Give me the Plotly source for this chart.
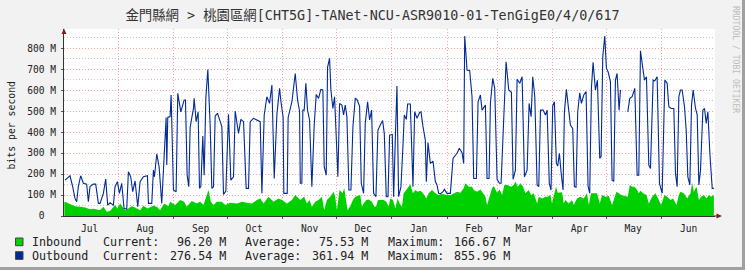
import plotly.graph_objects as go
import pandas as pd

BASE = pd.Timestamp("2022-07-01")

# ---------------- data (values in Mbit/s, x = days since 2022-07-01) ----------------
months = ["Jul", "Aug", "Sep", "Oct", "Nov", "Dec", "Jan", "Feb", "Mar", "Apr", "May", "Jun"]
month_starts = list(pd.date_range("2022-07-01", periods=12, freq="MS"))

y_tickvals = [0, 100, 200, 300, 400, 500, 600, 700, 800]
y_ticktext = ["0\u00a0\u00a0", "100 M", "200 M", "300 M", "400 M", "500 M", "600 M", "700 M", "800 M"]
y_minorvals = [50, 150, 250, 350, 450, 550, 650, 750, 850]

out_day = [1.18, 3.98, 5.47, 6.78, 7.71, 8.65, 9.95, 11.45, 13.31, 14.25, 15.18, 17.05, 18.35, 19.85,
           20.78, 22.65, 23.95, 25.07, 26.38, 28.25, 29.18, 30.49, 31.61, 32.91, 34.22, 35.71, 36.65,
           37.95, 39.07, 40.38, 41.87, 43.18, 45.05, 47.29, 47.85, 49.72, 50.65, 51.21, 52.51, 53.82,
           55.31, 56.62, 57.74, 58.11, 58.67, 59.98, 60.54, 61.85, 63.34, 64.27, 65.96, 67.82, 68.57,
           69.5, 70.43, 71.18, 73.05, 73.42, 74.54, 75.66, 76.41, 77.16, 78.27, 79.02, 79.96, 81.08,
           82.38, 83.32, 84.25, 85.18, 86.49, 87.42, 88.92, 89.85, 91.16, 92.65, 93.96, 95.45, 96.38,
           98.25, 99.56, 101.05, 102.54, 103.85, 104.78, 106.65, 110.38, 111.32, 112.62, 114.12,
           115.61, 116.92, 118.22, 119.72, 121.21, 122.0, 123.2, 123.6, 125.5, 126.0, 128.12, 129.98,
           131.29, 132.4, 132.8, 133.68, 134.24, 134.99, 135.92, 136.86, 137.98, 139.28, 140.59,
           141.71, 143.02, 144.32, 145.44, 146.19, 147.31, 148.06, 149.18, 149.92, 151.04, 151.98,
           153.28, 153.84, 154.78, 156.08, 157.02, 157.95, 158.88, 160.0, 161.12, 162.24, 163.55,
           164.48, 165.98, 166.91, 168.22, 169.15, 170.46, 171.58, 172.7, 173.82, 175.12, 176.24,
           177.55, 178.86, 179.79, 180.91, 181.85, 182.78, 184.27, 185.02, 185.95, 186.88, 187.82,
           189.13, 190.25, 190.99, 192.11, 192.86, 194.35, 195.84, 196.78, 198.08, 199.58, 200.33,
           201.45, 202.75, 203.31, 204.24, 205.55, 207.05, 208.35, 209.29, 210.22, 211.15, 212.65,
           213.39, 214.88, 216.75, 218.25, 219.55, 220.49, 221.79, 223.29, 224.22, 224.78, 226.09,
           227.58, 228.88, 229.82, 231.31, 232.25, 233.55, 234.49, 236.35, 237.29, 238.4, 239.15,
           240.46, 241.58, 242.89, 244.19, 245.13, 246.62, 247.93, 249.42, 250.91, 251.85, 253.15,
           254.09, 255.58, 256.89, 258.19, 259.69, 260.81, 261.93, 262.86, 263.98, 265.29, 266.22,
           267.16, 268.65, 269.95, 270.89, 272.1, 273.07, 274.0, 274.94, 276.06, 276.81, 277.74,
           278.86, 279.79, 280.54, 281.66, 282.97, 283.9, 285.21, 286.14, 287.07, 288.01, 289.13,
           290.06, 291.37, 292.67, 293.79, 294.73, 295.66, 296.59, 297.9, 299.02, 300.33, 301.07,
           302.01, 303.13, 304.06, 304.99, 306.3, 307.23, 308.17, 309.1, 310.03, 311.15, 311.9,
           312.5, 316.01, 317.13, 318.43, 319.93, 321.23, 322.17, 323.1, 324.41, 325.34, 326.46,
           327.77, 328.7, 330.19, 331.13, 332.43, 333.74, 335.24, 336.73, 338.03, 338.97, 340.28,
           341.77, 342.7, 343.64, 344.57, 345.5, 346.43, 347.74, 348.67, 349.61, 350.73, 351.66,
           352.6, 353.9, 354.84, 355.77, 356.7, 358.01, 358.94, 359.88, 360.81, 361.93, 363.24, 364.17]
out_mbps = [171, 192, 140, 84, 68, 140, 192, 156, 152, 68, 140, 152, 152, 60,
            60, 108, 176, 52, 63, 52, 140, 164, 108, 156, 36, 33, 211,
            187, 116, 167, 44, 164, 187, 192, 60, 60, 219, 187, 296, 235,
            60, 299, 470, 243, 470, 474, 577, 124, 116, 585, 497, 553, 553,
            195, 140, 423, 513, 561, 450, 497, 132, 140, 381, 195, 561, 699,
            434, 132, 140, 477, 490, 466, 426, 103, 119, 485, 171, 187, 501,
            394, 461, 450, 132, 132, 450, 466, 450, 108, 482, 569,
            537, 625, 179, 485, 609, 545, 470, 108, 108, 470, 545, 680,
            553, 500, 156, 156, 505, 505, 633, 505, 458, 140, 434,
            580, 561, 604, 601, 235, 195, 709, 752, 601, 513, 569,
            235, 187, 537, 529, 482, 529, 474, 124, 124, 426, 561,
            556, 524, 156, 108, 442, 545, 458, 505, 108, 92, 410,
            434, 455, 394, 92, 92, 386, 389, 92, 362, 620, 92,
            140, 338, 482, 461, 534, 534, 140, 497, 466, 494, 497,
            426, 362, 164, 350, 251, 262, 164, 148, 108, 105, 116,
            127, 108, 108, 275, 286, 299, 323, 302, 251, 858, 696,
            693, 569, 179, 179, 545, 577, 505, 529, 179, 179, 537,
            656, 609, 175, 156, 156, 505, 736, 601, 590, 175, 219,
            652, 633, 664, 187, 219, 537, 474, 664, 569, 148, 140,
            505, 505, 482, 505, 156, 124, 524, 545, 251, 238, 299,
            195, 124, 493, 604, 505, 434, 418, 140, 137, 497, 588,
            537, 577, 593, 143, 108, 609, 733, 601, 648, 275, 283,
            760, 858, 704, 688, 641, 171, 165, 648, 680, 505, 601,
            None, 497, 561, 569, 609, 195, 195, 788, 704, 648, 664,
            243, 227, 648, 645, 664, 156, 108, 648, 633, 521, 513,
            513, 203, 140, 569, 601, 601, 521, 410, 187, 148, 529,
            601, 513, 482, 148, 219, 505, 513, 442, 497, 299, 132, 132]

in_day = [0.8, 1.18, 3.98, 6.78, 9.58, 12.38, 15.18, 17.05, 20.78, 22.65, 24.51, 26.38, 29.18, 30.49,
          31.98, 34.78, 36.65, 38.51, 40.38, 43.18, 45.05, 47.29, 50.65, 52.51, 54.38, 56.62, 59.05,
          59.98, 62.78, 65.58, 67.82, 69.31, 72.12, 74.92, 76.78, 78.65, 80.52, 81.45, 82.76, 84.25,
          86.12, 88.92, 90.78, 93.58, 97.32, 100.12, 102.92, 105.72, 108.52, 110.38, 112.25, 115.05,
          117.85, 120.65, 122.52, 125.32, 128.12, 129.98, 132.79, 134.99, 136.48, 137.98, 139.28,
          141.15, 143.02, 144.88, 146.19, 147.68, 149.55, 151.42, 152.35, 153.28, 154.78, 156.46,
          157.39, 158.14, 159.26, 160.75, 162.24, 163.55, 166.35, 167.28, 168.22, 169.71, 171.02,
          172.88, 174.19, 175.31, 176.24, 179.42, 180.91, 182.22, 183.15, 184.64, 185.95, 187.26,
          188.38, 189.68, 190.62, 192.11, 192.86, 194.35, 195.84, 197.15, 198.46, 199.95, 201.45,
          203.31, 204.62, 206.49, 208.35, 210.22, 212.08, 214.88, 217.12, 218.62, 220.49, 222.35,
          224.22, 225.15, 227.02, 228.88, 229.82, 231.68, 233.55, 235.05, 236.35, 237.29, 238.78,
          240.08, 241.02, 242.89, 244.38, 245.69, 246.99, 248.49, 250.73, 252.22, 253.15, 254.46,
          255.95, 257.45, 258.75, 260.62, 261.93, 263.42, 265.29, 266.22, 268.09, 269.95, 271.21,
          272.7, 273.63, 274.57, 275.87, 276.81, 279.23, 280.17, 281.1, 282.97, 284.83, 285.77,
          287.63, 289.5, 291.37, 293.23, 294.17, 295.47, 298.83, 300.33, 301.63, 303.5, 305.37,
          307.23, 308.54, 309.66, 310.97, 312.27, 312.6, 316.01, 317.13, 318.43, 319.74, 321.23,
          322.17, 323.1, 324.59, 326.46, 327.77, 329.63, 331.5, 333.37, 334.68, 336.54, 338.03,
          339.9, 341.39, 343.26, 344.57, 345.5, 347.37, 349.23, 351.1, 352.03, 352.97, 354.46,
          355.77, 357.07, 358.57, 360.06, 361.37, 362.68, 364.17]
in_mbps = [66, 68, 57, 47, 44, 40, 32, 35, 28, 44, 20, 24, 52, 36,
           60, 28, 36, 47, 40, 28, 49, 36, 49, 44, 28, 60, 47,
           68, 52, 76, 68, 44, 71, 60, 68, 52, 100, 124, 68, 52,
           68, 68, 52, 63, 60, 68, 63, 60, 76, 84, 60, 92,
           68, 84, 76, 60, 76, 100, 76, 92, 60, 76, 44,
           68, 76, 92, 28, 76, 92, 116, 92, 28, 124, 108,
           132, 92, 28, 47, 76, 92, 100, 44, 60, 76, 79,
           68, 44, 47, 76, 76, 68, 44, 84, 76, 36, 84,
           60, 44, 108, 124, 132, 152, 108, 124, 116, 121, 108,
           84, 108, 124, 108, 100, 105, 100, 100, 108, 116, 111,
           132, 156, 140, 140, 124, 116, 127, 108, 92, 52, 100,
           132, 143, 111, 127, 100, 148, 148, 140, 148, 164, 140,
           156, 140, 108, 124, 100, 108, 60, 92, 84, 92, 92,
           100, 60, 100, 140, 111, 113, 60, 76, 60, 76, 52,
           84, 92, 84, 108, 52, 108, 108, 60, 100, 92, 95,
           52, 92, 116, 108, 100, None, 92, 148, 140, 140, 124,
           108, 121, 108, 100, 60, 92, 108, 76, 52, 100, 92,
           76, 84, 52, 100, 116, 108, 84, 108, 159, 116, 140,
           76, 92, 100, 84, 100, 92, 100]

legend_rows = [
    ("Inbound", "96.20 M", "75.53 M", "166.67 M", "#00CF00"),
    ("Outbound", "276.54 M", "361.94 M", "855.96 M", "#002A97"),
]

# ---------------- geometry helpers (pixel -> paper) ----------------
W, H = 745, 270
L, R, T, B = 64, 30, 29, 54
PW, PH = W - L - R, H - T - B


def px(x):
    return (x - L) / PW


def py(y):
    return (H - B - y) / PH


MONO = "DejaVu Sans Mono, Noto Sans CJK TC, monospace"

fig = go.Figure()
fig.add_trace(go.Scatter(
    x=[BASE + pd.Timedelta(days=d) for d in in_day], y=in_mbps,
    mode="lines", fill="tozeroy", fillcolor="#00CF00",
    line=dict(width=0, color="#00CF00"), connectgaps=False, hoverinfo="skip", showlegend=False))
fig.add_trace(go.Scatter(
    x=[BASE + pd.Timedelta(days=d) for d in out_day], y=out_mbps,
    mode="lines", line=dict(width=1.1, color="#002A97"), connectgaps=False,
    hoverinfo="skip", showlegend=False))

xr = [BASE + pd.Timedelta(days=0.62), BASE + pd.Timedelta(days=364.8)]

fig.update_layout(
    width=W, height=H,
    margin=dict(l=L, r=R, t=T, b=B, pad=0),
    paper_bgcolor="#F2F2F2", plot_bgcolor="#FFFFFF",
    font=dict(family=MONO, size=9.6, color="#222"),
    title=dict(text="金門縣網 > 桃園區網[CHT5G]-TANet-NCU-ASR9010-01-TenGigE0/4/0/617",
               x=0.5, xref="container", xanchor="center",
               y=1 - 15 / H, yref="container", yanchor="middle",
               font=dict(family=MONO, size=13.4, color="#333")),
    xaxis=dict(
        type="date", range=xr, showgrid=False, zeroline=False,
        tickmode="array", tickvals=[m + pd.Timedelta(days=15) for m in month_starts], ticktext=months,
        ticks="", tickfont=dict(family=MONO, size=9.6, color="#222"), ticklabelstandoff=3,
        showline=True, linecolor="#333", linewidth=1,
        minor=dict(tickmode="array", tickvals=month_starts[1:], showgrid=True,
                   gridcolor="rgba(235,90,90,0.55)", griddash="1px,2px", gridwidth=1,
                   ticks="outside", ticklen=2, tickcolor="#555"),
    ),
    yaxis=dict(
        range=[0, 892], showgrid=True, gridcolor="rgba(235,90,90,0.55)", griddash="1px,2px",
        gridwidth=1, zeroline=False,
        tickmode="array", tickvals=y_tickvals, ticktext=y_ticktext,
        ticks="outside", ticklen=2, tickcolor="#555",
        tickfont=dict(family=MONO, size=9.6, color="#222"), ticklabelstandoff=3,
        showline=True, linecolor="#333", linewidth=1,
        minor=dict(tickmode="array", tickvals=y_minorvals, showgrid=True,
                   gridcolor="rgba(150,150,150,0.55)", griddash="1px,2px", gridwidth=1),
    ),
)

shapes = []
# axis arrows
shapes.append(dict(type="path", xref="paper", yref="paper",
                   path=f"M {px(61.5)},{py(34)} L {px(66.5)},{py(34)} L {px(64)},{py(28.5)} Z",
                   fillcolor="#8B1A1A", line=dict(width=0)))
shapes.append(dict(type="line", xref="paper", yref="paper", x0=px(714), x1=px(717), y0=py(216), y1=py(216),
                   line=dict(color="#333", width=1)))
shapes.append(dict(type="path", xref="paper", yref="paper",
                   path=f"M {px(716.5)},{py(213.5)} L {px(716.5)},{py(218.5)} L {px(722)},{py(216)} Z",
                   fillcolor="#8B1A1A", line=dict(width=0)))
# frame shading
shapes.append(dict(type="rect", xref="paper", yref="paper", x0=px(742), x1=px(745.5), y0=py(-1), y1=py(270.5),
                   fillcolor="#A0A0A0", line=dict(width=0), layer="above"))
shapes.append(dict(type="rect", xref="paper", yref="paper", x0=px(-1), x1=px(745.5), y0=py(270.5), y1=py(267),
                   fillcolor="#A0A0A0", line=dict(width=0), layer="above"))

annotations = []
# y axis title
annotations.append(dict(text="bits per second", xref="paper", yref="paper", x=px(10.5), y=py(126),
                        xanchor="center", yanchor="middle", textangle=-90, showarrow=False,
                        font=dict(family=MONO, size=9.8, color="#222")))
# watermark
annotations.append(dict(text="RRDTOOL / TOBI OETIKER", xref="paper", yref="paper", x=px(736), y=py(59),
                        xanchor="center", yanchor="middle", textangle=90, showarrow=False,
                        font=dict(family=MONO, size=8.1, color="#BDBDBD")))

LEG_FONT = dict(family=MONO, size=11.7, color="#222")
row_y = [242, 255.7]
for (name, cur, avg, mx, col), yy in zip(legend_rows, row_y):
    shapes.append(dict(type="rect", xref="paper", yref="paper",
                       x0=px(15.5), x1=px(23), y0=py(yy - 4), y1=py(yy + 3.7),
                       fillcolor=col, line=dict(color="#444", width=1)))
    items = [(name, 30.7, "left"), ("Current:", 102, "left"), (cur, 227, "right"),
             ("Average:", 244, "left"), (avg, 369, "right"),
             ("Maximum:", 386.7, "left"), (mx, 511, "right")]
    for txt, xx, anc in items:
        annotations.append(dict(text=txt, xref="paper", yref="paper", x=px(xx), y=py(yy),
                                xanchor=anc, yanchor="middle", showarrow=False, borderpad=0,
                                font=LEG_FONT))

fig.update_layout(shapes=shapes, annotations=annotations)
fig.write_html("out.html", config={"displayModeBar": False})
